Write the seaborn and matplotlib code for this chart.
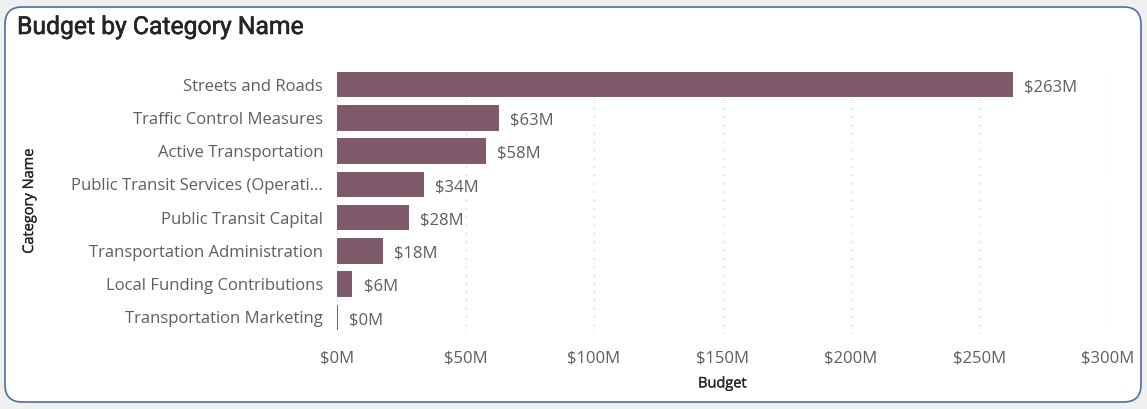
import matplotlib
matplotlib.use("Agg")
import matplotlib.pyplot as plt
import matplotlib.patheffects as pe
import seaborn as sns
import pandas as pd
from matplotlib.patches import FancyBboxPatch
from matplotlib.ticker import FuncFormatter

categories = ["Streets and Roads", "Traffic Control Measures", "Active Transportation",
              "Public Transit Services (Operati...", "Public Transit Capital",
              "Transportation Administration", "Local Funding Contributions",
              "Transportation Marketing"]
budget_m = [263, 63, 58, 34, 28, 18, 6, 0.5]
value_labels = ["$263M", "$63M", "$58M", "$34M", "$28M", "$18M", "$6M", "$0M"]
x_ticks = [0, 50, 100, 150, 200, 250, 300]

df = pd.DataFrame({"Category Name": categories, "Budget": budget_m})

sns.set_theme(style="white")
plt.rcParams["font.family"] = ["Open Sans", "DejaVu Sans"]

fig = plt.figure(figsize=(11.47, 4.09), dpi=100)
fig.patch.set_facecolor("#f0f0f0")
card = FancyBboxPatch((5 / 1147, 7 / 409), 1136 / 1147, 395 / 409,
                      boxstyle="round,pad=0,rounding_size=0.015",
                      transform=fig.transFigure, facecolor="white",
                      edgecolor="#4a6fa0", linewidth=1.2, zorder=-5,
                      mutation_aspect=1147 / 409)
fig.patches.append(card)

ax = fig.add_axes([337 / 1147, 1 - 334 / 409, (1108 - 337) / 1147, (334 - 68) / 409])
ax.set_zorder(2)
ax.set_facecolor("none")
sns.barplot(data=df, x="Budget", y="Category Name", color="#7f5a6b",
            saturation=1, width=0.76, linewidth=0, ax=ax)

ax.set_xlim(0, 300)
ax.set_ylim(len(categories) - 0.5, -0.5)
ax.set_xticks(x_ticks)
ax.xaxis.set_major_formatter(FuncFormatter(lambda v, p: f"${int(v)}M"))
for s in ax.spines.values():
    s.set_visible(False)
ax.grid(axis="x", color="#d0d0d0", linestyle=(0, (1, 5)), linewidth=1)
ax.set_axisbelow(True)
ax.tick_params(axis="x", labelsize=12, pad=12, length=0)
ax.tick_params(axis="y", labelsize=12, pad=10, length=0)
for t in ax.get_xticklabels() + ax.get_yticklabels():
    t.set_color("#605e5c")

for i, (v, lab) in enumerate(zip(budget_m, value_labels)):
    ax.annotate(lab, xy=(v, i), xytext=(8, -2), textcoords="offset points",
                ha="left", va="center", fontsize=12, color="#605e5c")

semi = [pe.withStroke(linewidth=0.2, foreground="#252423")]
ax.set_xlabel("Budget", fontsize=10.5, color="#252423", labelpad=7, path_effects=semi)
ax.set_ylabel("Category Name", fontsize=10.5, color="#252423", path_effects=semi)
ax.yaxis.set_label_coords(-300 / 771, 0.5)

fig.text(17 / 1147, 1 - 27 / 409, "Budget by Category Name", fontsize=17.8,
         color="#252423", va="center", ha="left",
         family=["Roboto", "DejaVu Sans"],
         path_effects=[pe.withStroke(linewidth=0.4, foreground="#252423")])

fig.savefig("out.png", dpi=100, facecolor=fig.get_facecolor())
